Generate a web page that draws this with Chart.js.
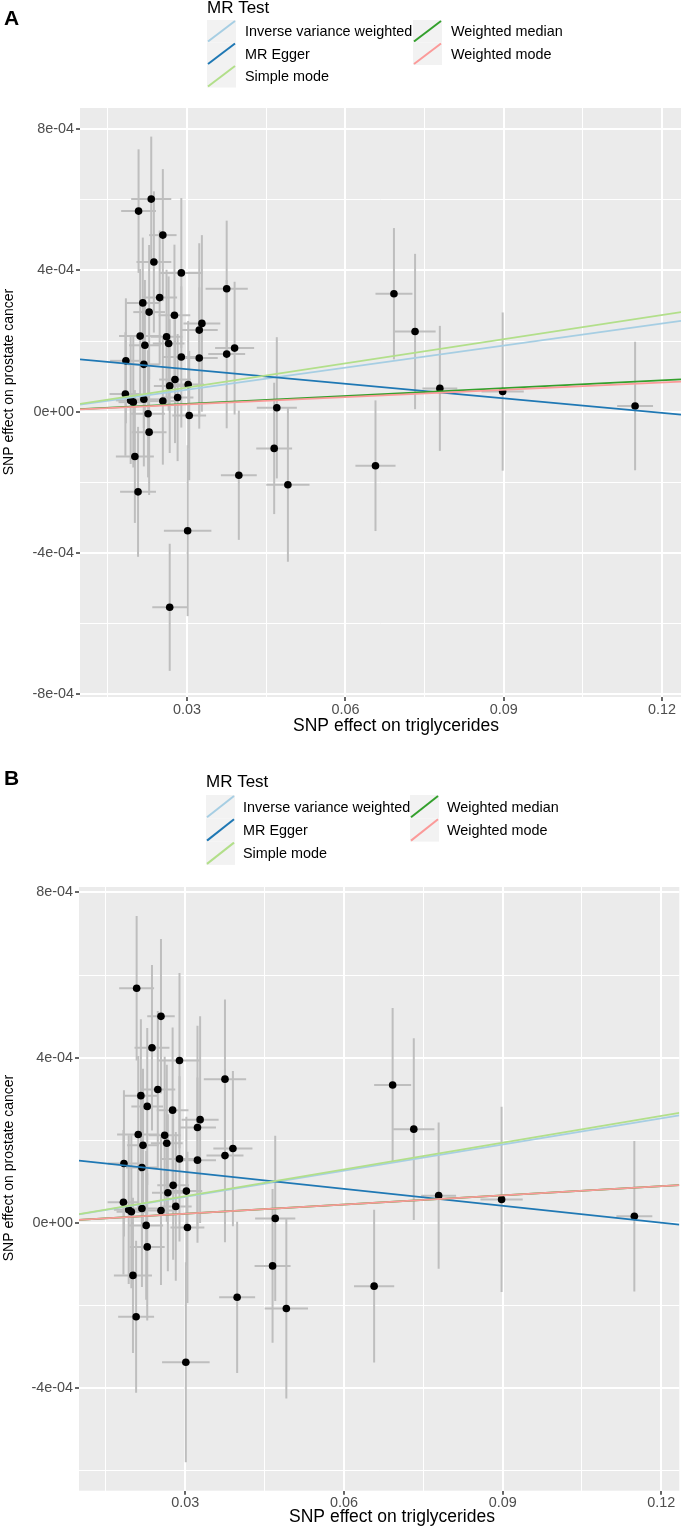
<!DOCTYPE html>
<html lang="en">
<head>
<meta charset="UTF-8">
<title>MR scatter plots</title>
<script src="https://cdn.jsdelivr.net/npm/chart.js@4.4.1/dist/chart.umd.min.js"></script>
<style>
    html, body { margin: 0; padding: 0; background: #ffffff; }
    .panel { position: absolute; left: 0; width: 685px; }
    #wrapA { top: 0; height: 740px; }
    #wrapB { top: 740px; height: 787px; }
</style>
</head>
<body>
<div class="panel" id="wrapA"><canvas id="chartA" width="685" height="740"></canvas></div>
<div class="panel" id="wrapB"><canvas id="chartB" width="685" height="787"></canvas></div>

<script>
    // SNP effect on triglycerides (x) and on prostate cancer (y)
    var snpX = [0.0232, 0.0208, 0.0254, 0.0237, 0.0289, 0.0375, 0.0248, 0.0216, 0.0228, 0.0276,
        0.0328, 0.0323, 0.0211, 0.0261, 0.0220, 0.0265, 0.0390, 0.0375, 0.0289, 0.0323,
        0.0184, 0.0218, 0.0277, 0.0267, 0.0302, 0.0183, 0.0193, 0.0198, 0.0218, 0.0254,
        0.0282, 0.0470, 0.0226, 0.0304, 0.0228, 0.0201, 0.0398, 0.0207, 0.0465, 0.0491,
        0.0301, 0.0267, 0.0692, 0.0732, 0.0779, 0.0898, 0.1149, 0.0657];
    var snpY = [6.02e-4, 5.68e-4, 5.00e-4, 4.24e-4, 3.93e-4, 3.48e-4, 3.23e-4, 3.08e-4, 2.82e-4, 2.73e-4,
        2.50e-4, 2.31e-4, 2.14e-4, 2.12e-4, 1.88e-4, 1.93e-4, 1.80e-4, 1.63e-4, 1.55e-4, 1.52e-4,
        1.44e-4, 1.34e-4, 0.91e-4, 0.73e-4, 0.77e-4, 0.50e-4, 0.32e-4, 0.27e-4, 0.35e-4, 0.30e-4,
        0.40e-4, 0.11e-4, -0.06e-4, -0.11e-4, -0.58e-4, -1.27e-4, -1.80e-4, -2.27e-4, -1.04e-4, -2.07e-4,
        -3.37e-4, -5.54e-4, 3.34e-4, 2.27e-4, 0.66e-4, 0.57e-4, 0.16e-4, -1.53e-4];
    // half widths of the error bars
    var snpXerr = [0.0038, 0.0033, 0.0026, 0.0033, 0.0040, 0.0040, 0.0033, 0.0031, 0.0030, 0.0030,
        0.0035, 0.0035, 0.0040, 0.0030, 0.0030, 0.0030, 0.0037, 0.0035, 0.0035, 0.0035,
        0.0030, 0.0030, 0.0030, 0.0030, 0.0030, 0.0030, 0.0028, 0.0028, 0.0030, 0.0030,
        0.0030, 0.0038, 0.0032, 0.0032, 0.0033, 0.0036, 0.0034, 0.0034, 0.0034, 0.0041,
        0.0045, 0.0033, 0.0035, 0.0039, 0.0033, 0.0040, 0.0034, 0.0038];
    var snpYerr = [1.77e-4, 1.75e-4, 1.87e-4, 2.00e-4, 2.12e-4, 1.93e-4, 1.90e-4, 1.85e-4, 1.90e-4, 2.00e-4,
        2.50e-4, 2.46e-4, 1.90e-4, 1.90e-4, 1.85e-4, 1.90e-4, 1.88e-4, 2.10e-4, 2.00e-4, 2.00e-4,
        1.77e-4, 1.80e-4, 1.80e-4, 1.90e-4, 1.80e-4, 1.75e-4, 1.80e-4, 1.85e-4, 1.90e-4, 1.80e-4,
        1.80e-4, 2.00e-4, 1.80e-4, 1.83e-4, 1.78e-4, 1.88e-4, 1.83e-4, 1.84e-4, 1.86e-4, 2.18e-4,
        2.42e-4, 1.80e-4, 1.86e-4, 2.20e-4, 1.77e-4, 2.24e-4, 1.82e-4, 1.85e-4];
    // SNPs that are not in panel B
    var removedInB = [0, 41];

    var methods = ['Inverse variance weighted', 'MR Egger', 'Simple mode', 'Weighted median', 'Weighted mode'];
    var methodColors = ['#a6cee3', '#1f78b4', '#b2df8a', '#33a02c', '#fb9a99'];
    var slopeA = [2.08e-3, -1.374e-3, 2.28e-3, 0.74e-3, 0.69e-3];
    var interceptA = [0, 1.614e-4, 0, 0, 0];
    var slopeB = [2.11e-3, -1.366e-3, 2.16e-3, 0.74e-3, 0.74e-3];
    var interceptB = [0, 1.643e-4, 0, 0, 0];

    var xTicks = [0.03, 0.06, 0.09, 0.12];
    var xTickLabels = ['0.03', '0.06', '0.09', '0.12'];
    var xMinor = [0.015, 0.045, 0.075, 0.105];
    var yTicksA = [-8e-4, -4e-4, 0, 4e-4, 8e-4];
    var yTickLabelsA = ['-8e-04', '-4e-04', '0e+00', '4e-04', '8e-04'];
    var yMinorA = [-6e-4, -2e-4, 2e-4, 6e-4];
    var yTicksB = [-4e-4, 0, 4e-4, 8e-4];
    var yTickLabelsB = ['-4e-04', '0e+00', '4e-04', '8e-04'];
    var yMinorB = [-6e-4, -2e-4, 2e-4, 6e-4];

    var FONT = '"Liberation Sans", Arial, Helvetica, sans-serif';
    Chart.defaults.font.family = FONT;

    function labelFor(value, ticks, labels) {
        for (var i = 0; i < ticks.length; i++) {
            if (Math.abs(ticks[i] - value) < 1e-12) return labels[i];
        }
        return '';
    }

    function buildTicks(major, minor) {
        var list = major.map(function (v) { return { value: v }; })
            .concat(minor.map(function (v) { return { value: v, minor: true }; }));
        list.sort(function (a, b) { return a.value - b.value; });
        return list;
    }

    // panel background, error bars, legend and titles in ggplot style
    var ggPanel = {
        id: 'ggPanel',
        beforeDraw: function (chart) {
            var ctx = chart.ctx, a = chart.chartArea;
            ctx.save();
            ctx.fillStyle = '#ffffff';
            ctx.fillRect(0, 0, chart.width, chart.height);
            ctx.fillStyle = '#ebebeb';
            ctx.fillRect(a.left, a.top, a.right - a.left, a.bottom - a.top);
            ctx.restore();
        },
        beforeDatasetsDraw: function (chart) {
            var ctx = chart.ctx, a = chart.chartArea;
            var xs = chart.scales.x, ys = chart.scales.y;
            ctx.save();
            ctx.beginPath();
            ctx.rect(a.left, a.top, a.right - a.left, a.bottom - a.top);
            ctx.clip();
            ctx.strokeStyle = '#bebebe';
            ctx.lineWidth = 2;
            chart.data.datasets.forEach(function (ds) {
                if (!ds.errX) return;
                ds.data.forEach(function (p, i) {
                    var px = xs.getPixelForValue(p.x);
                    ctx.beginPath();
                    ctx.moveTo(px, ys.getPixelForValue(p.y - ds.errY[i]));
                    ctx.lineTo(px, ys.getPixelForValue(p.y + ds.errY[i]));
                    ctx.stroke();
                });
                ds.data.forEach(function (p, i) {
                    var py = ys.getPixelForValue(p.y);
                    ctx.beginPath();
                    ctx.moveTo(xs.getPixelForValue(p.x - ds.errX[i]), py);
                    ctx.lineTo(xs.getPixelForValue(p.x + ds.errX[i]), py);
                    ctx.stroke();
                });
            });
            ctx.restore();
        },
        afterDraw: function (chart, args, opts) {
            var ctx = chart.ctx, L = opts.legend;
            ctx.save();
            // panel tag
            ctx.fillStyle = '#000000';
            ctx.textBaseline = 'alphabetic';
            ctx.textAlign = 'left';
            ctx.font = 'bold 21px ' + FONT;
            ctx.fillText(opts.tag, 4, opts.tagY);

            // legend
            ctx.font = '17px ' + FONT;
            ctx.fillText('MR Test', L.x, L.titleY);
            methods.forEach(function (name, i) {
                var col = i < 3 ? 0 : 1;
                var row = i < 3 ? i : i - 3;
                var kx = col === 0 ? L.x : L.col2;
                var ky = L.top + row * L.rowH;
                ctx.fillStyle = '#f2f2f2';
                ctx.fillRect(kx, ky, L.keyW, L.rowH);
                ctx.strokeStyle = methodColors[i];
                ctx.lineWidth = 2;
                ctx.beginPath();
                ctx.moveTo(kx + 1, ky + L.rowH - 1);
                ctx.lineTo(kx + L.keyW - 1, ky + 1);
                ctx.stroke();
                ctx.fillStyle = '#000000';
                ctx.font = '14.4px ' + FONT;
                ctx.textBaseline = 'middle';
                ctx.fillText(name, kx + L.keyW + L.gap, ky + L.rowH / 2 + 1);
            });

            // axis titles
            ctx.fillStyle = '#000000';
            ctx.textAlign = 'center';
            ctx.textBaseline = 'middle';
            ctx.font = '17.5px ' + FONT;
            ctx.fillText('SNP effect on triglycerides', opts.xTitle.x, opts.xTitle.y);
            ctx.translate(opts.yTitle.x, opts.yTitle.y);
            ctx.rotate(-Math.PI / 2);
            ctx.font = '14px ' + FONT;
            ctx.fillText('SNP effect on prostate cancer', 0, 0);
            ctx.restore();
        }
    };

    function makeChart(p) {
        var pts = [], ex = [], ey = [];
        snpX.forEach(function (x, i) {
            if (p.removed.indexOf(i) >= 0) return;
            pts.push({ x: x, y: snpY[i] });
            ex.push(snpXerr[i]);
            ey.push(snpYerr[i]);
        });

        var datasets = [{
            label: 'SNPs',
            data: pts,
            errX: ex,
            errY: ey,
            pointRadius: 3.8,
            pointBackgroundColor: '#000000',
            pointBorderWidth: 0,
            order: 10
        }];
        methods.forEach(function (name, i) {
            datasets.push({
                label: name,
                data: [
                    { x: p.xMin, y: p.intercept[i] + p.slope[i] * p.xMin },
                    { x: p.xMax, y: p.intercept[i] + p.slope[i] * p.xMax }
                ],
                showLine: true,
                borderColor: methodColors[i],
                borderWidth: 1.8,
                pointRadius: 0,
                order: 5 - i
            });
        });

        var gridOpts = {
            color: '#ffffff',
            lineWidth: function (c) { return c.tick && c.tick.minor ? 1 : 2; },
            tickColor: function (c) { return c.tick && c.tick.minor ? 'rgba(0,0,0,0)' : '#333333'; },
            tickLength: 4,
            tickWidth: 1.5
        };

        return new Chart(document.getElementById(p.id), {
            type: 'scatter',
            data: { datasets: datasets },
            plugins: [ggPanel],
            options: {
                responsive: false,
                animation: false,
                events: [],
                layout: { padding: { top: p.padTop, right: p.padRight, left: 0, bottom: 0 } },
                scales: {
                    x: {
                        type: 'linear',
                        min: p.xMin,
                        max: p.xMax,
                        border: { display: false },
                        grid: gridOpts,
                        afterFit: function (s) { s.height = p.xAxisH; },
                        afterBuildTicks: function (s) { s.ticks = buildTicks(xTicks, xMinor); },
                        ticks: {
                            autoSkip: false,
                            maxRotation: 0,
                            minRotation: 0,
                            padding: 0,
                            color: '#4d4d4d',
                            font: { size: 14.4 },
                            callback: function (v, i, t) { return t[i].minor ? '' : labelFor(v, xTicks, xTickLabels); }
                        }
                    },
                    y: {
                        type: 'linear',
                        min: p.yMin,
                        max: p.yMax,
                        border: { display: false },
                        grid: gridOpts,
                        afterFit: function (s) { s.width = p.yAxisW; },
                        afterBuildTicks: function (s) { s.ticks = buildTicks(p.yTicks, p.yMinor); },
                        ticks: {
                            autoSkip: false,
                            padding: 2,
                            color: '#4d4d4d',
                            font: { size: 14.4 },
                            callback: function (v, i, t) { return t[i].minor ? '' : labelFor(v, p.yTicks, p.yLabels); }
                        }
                    }
                },
                plugins: {
                    legend: { display: false },
                    tooltip: { enabled: false },
                    ggPanel: {
                        tag: p.tag,
                        tagY: p.tagY,
                        legend: p.legend,
                        xTitle: p.xTitle,
                        yTitle: p.yTitle
                    }
                }
            }
        });
    }

    makeChart({
        id: 'chartA', tag: 'A', tagY: 25, removed: [],
        slope: slopeA, intercept: interceptA,
        xMin: 0.0097, xMax: 0.1236, yMin: -8.08e-4, yMax: 8.6e-4,
        yTicks: yTicksA, yLabels: yTickLabelsA, yMinor: yMinorA,
        padTop: 108, padRight: 0, yAxisW: 80, xAxisH: 43,
        legend: { x: 207, top: 20, rowH: 22.5, keyW: 29, col2: 413, gap: 9, titleY: 13 },
        xTitle: { x: 396, y: 726 }, yTitle: { x: 9, y: 382 }
    });

    makeChart({
        id: 'chartB', tag: 'B', tagY: 45, removed: removedInB,
        slope: slopeB, intercept: interceptB,
        xMin: 0.0099, xMax: 0.1234, yMin: -6.48e-4, yMax: 8.13e-4,
        yTicks: yTicksB, yLabels: yTickLabelsB, yMinor: yMinorB,
        padTop: 147, padRight: 5.7, yAxisW: 79, xAxisH: 36.3,
        legend: { x: 206, top: 55, rowH: 23.3, keyW: 29, col2: 410, gap: 8, titleY: 47 },
        xTitle: { x: 392, y: 777 }, yTitle: { x: 9, y: 428 }
    });
</script>
</body>
</html>
